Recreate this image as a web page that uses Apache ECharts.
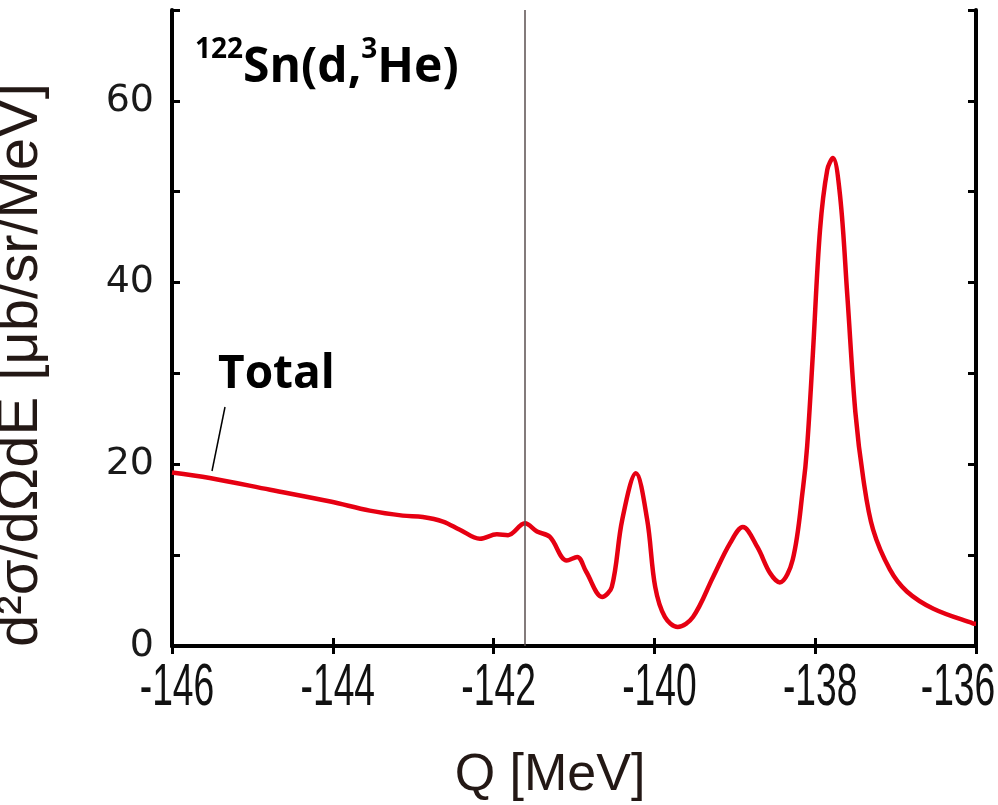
<!DOCTYPE html>
<html>
<head>
<meta charset="utf-8">
<script src="https://cdn.jsdelivr.net/npm/echarts@6/dist/echarts.min.js"></script>
<style>
  html, body { margin: 0; padding: 0; background: #fff; }
  #container { width: 998px; height: 805px; }
</style>
</head>
<body>
<div id="container"></div>
<script>
// Q values [MeV]
var qValues = [
  -146.0, -145.53, -144.78, -144.03, -143.54, -143.13, -142.88, -142.63,
  -142.42, -142.17, -141.96, -141.82, -141.61, -141.46, -141.30, -141.09,
  -140.96, -140.85, -140.65, -140.53, -140.40, -140.23, -140.09, -139.99,
  -139.87, -139.71, -139.52, -139.27, -139.06, -138.90, -138.72, -138.56,
  -138.44, -138.28, -138.15, -138.10, -138.03, -137.94, -137.85, -137.78,
  -137.69, -137.60, -137.50, -137.40, -137.28, -137.07, -136.86, -136.53,
  -136.04, -136.0
];
// d2sigma/dOmega dE [ub/sr/MeV]
var totalValues = [
  19.1, 18.5, 17.2, 15.9, 14.9, 14.35, 14.2, 13.7,
  12.8, 11.8, 12.3, 12.2, 13.5, 12.6, 12.0, 9.4,
  9.8, 8.2, 5.4, 6.5, 13.9, 19.0, 13.9, 6.5,
  3.2, 2.1, 3.2, 7.6, 11.3, 13.1, 10.9, 8.0,
  7.0, 9.5, 17.5, 22.0, 32.0, 45.8, 52.4, 53.7,
  49.5, 38.5, 25.7, 18.3, 12.8, 8.4, 6.0, 4.1,
  2.5, 2.45
];
var xTickLabels = [-146, -144, -142, -140, -138, -136];
var cutLineQ = -141.61;

var xMin = -146, xMax = -136;
var yMin = 0, yMax = 70;

var dom = document.getElementById("container");
var myChart = echarts.init(dom);
var option;

var seriesData = qValues.map(function (q, i) {
  return [q, totalValues[i]];
});

var axisBlack = { lineStyle: { color: "#000", width: 4 } };
var tickIn = { show: true, inside: true, length: 8, lineStyle: { color: "#000", width: 3 } };

option = {
  animation: false,
  backgroundColor: "#fff",
  grid: { left: 172, right: 22, top: 10, bottom: 159, outerBoundsMode: "none", containLabel: false },
  xAxis: [
    {
      type: "value",
      min: xMin,
      max: xMax,
      interval: 2,
      position: "bottom",
      axisLine: axisBlack,
      axisTick: tickIn,
      splitLine: { show: false },
      axisLabel: { show: false },
      name: "Q [MeV]",
      nameLocation: "middle",
      nameGap: 104,
      nameTextStyle: {
        fontSize: 52,
        color: "#231815",
        fontFamily: "Liberation Sans",
        padding: [0, 48, 0, 0]
      }
    },
    {
      type: "value",
      min: xMin,
      max: xMax,
      interval: 2,
      position: "top",
      axisLine: axisBlack,
      axisTick: tickIn,
      axisLabel: { show: false },
      splitLine: { show: false }
    }
  ],
  yAxis: [
    {
      type: "value",
      min: yMin,
      max: yMax,
      interval: 10,
      position: "left",
      axisLine: axisBlack,
      axisTick: tickIn,
      splitLine: { show: false },
      axisLabel: {
        margin: 18,
        fontSize: 38,
        color: "#1a1a1a",
        fontFamily: "DejaVu Sans",
        formatter: function (v) {
          return v % 20 === 0 ? String(v) : "";
        }
      },
      name: "d²σ/dΩdE [μb/sr/MeV]",
      nameLocation: "middle",
      nameGap: 122,
      nameTextStyle: {
        fontSize: 58,
        color: "#231815",
        fontFamily: "Liberation Sans",
        padding: [0, 74, 0, 0]
      }
    },
    {
      type: "value",
      min: yMin,
      max: yMax,
      interval: 10,
      position: "right",
      axisLine: axisBlack,
      axisTick: tickIn,
      axisLabel: { show: false },
      splitLine: { show: false }
    }
  ],
  series: [
    {
      name: "Total",
      type: "line",
      data: seriesData,
      showSymbol: false,
      smooth: 0.35,
      lineStyle: { color: "#e60012", width: 4.5 },
      z: 3,
      markLine: {
        silent: true,
        symbol: ["none", "none"],
        label: { show: false },
        lineStyle: { color: "#5a4f4f", width: 1.5, type: "solid" },
        data: [{ xAxis: cutLineQ }]
      }
    }
  ],
  graphic: [
    {
      type: "text",
      left: 195,
      top: 36,
      style: {
        text: "{sup|122}{b|Sn(d,}{sup|3}{b|He)}",
        rich: {
          b: { fontSize: 48, fontWeight: "bold", fontFamily: "Open Sans", fill: "#000", verticalAlign: "bottom", lineHeight: 56 },
          sup: { fontSize: 28, fontWeight: "bold", fontFamily: "Open Sans", fill: "#000", verticalAlign: "top", lineHeight: 56, padding: [0, 0, 20, 0] }
        }
      }
    },
    {
      type: "text",
      left: 218,
      top: 352,
      style: {
        text: "Total",
        fontSize: 46,
        fontWeight: "bold",
        fontFamily: "Open Sans",
        fill: "#000"
      }
    },
    {
      type: "line",
      shape: { x1: 225, y1: 407, x2: 212, y2: 471 },
      style: { stroke: "#000", lineWidth: 1.5 }
    }
  ]
};

if (option && typeof option === "object") {
  myChart.setOption(option, true);
}

// condensed tick labels for the Q axis, placed at the axis' own tick positions
var tickGraphics = xTickLabels.map(function (v, i) {
  var px = myChart.convertToPixel({ xAxisIndex: 0 }, v);
  var py = myChart.convertToPixel({ yAxisIndex: 0 }, yMin);
  var last = i === xTickLabels.length - 1;
  return {
    type: "text",
    x: last ? px - 18 : px + 5,
    y: py + 12,
    scaleX: 0.62,
    style: {
      text: String(v),
      fontSize: 60,
      fontFamily: "Liberation Sans",
      fill: "#111",
      align: "center",
      verticalAlign: "top"
    }
  };
});
myChart.setOption({ graphic: option.graphic.concat(tickGraphics) });
</script>
</body>
</html>
